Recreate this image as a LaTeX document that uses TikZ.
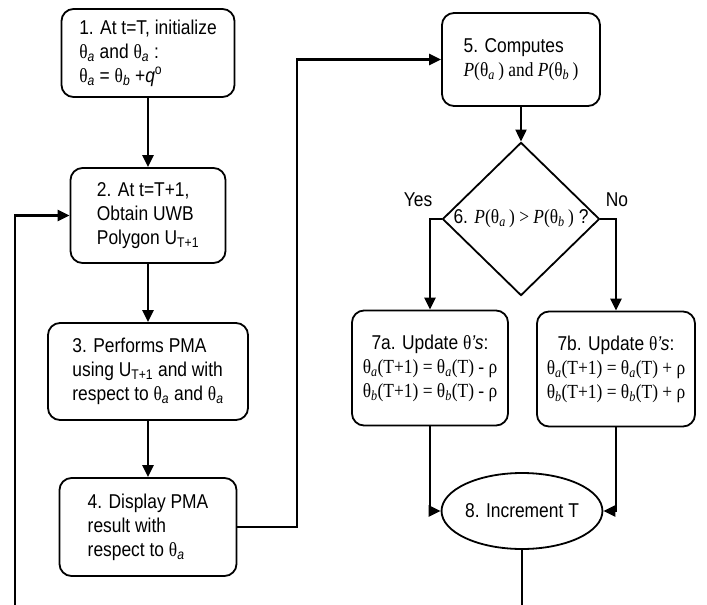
\documentclass[tikz,border=0pt]{standalone}
\usepackage{fontspec}
\setmainfont{Liberation Sans}[FakeStretch=0.87]
\newfontfamily\tms{Liberation Serif}[FakeStretch=0.87]
\usetikzlibrary{arrows.meta,calc,positioning,shapes.geometric}
\newcommand\tht[1]{{\tms θ}\textsubscript{\itshape #1}}

\begin{document}
\begin{tikzpicture}[x=1pt,y=-1pt,
    every node/.style={font=\fontsize{20}{24}\selectfont},
    stepbox/.style={draw,line width=1.8pt,rounded corners=12pt,align=left,inner sep=0pt},
    decision/.style={draw,diamond,line width=1.8pt,inner sep=0pt,aspect=1,minimum width=157pt,minimum height=152pt},
    term/.style={draw,ellipse,line width=1.8pt,inner sep=0pt,minimum width=138pt,minimum height=76pt},
    flow/.style={line width=2.4pt,-{Triangle[length=12pt,width=11pt]}},
    wire/.style={line width=2.4pt}]
        \useasboundingbox(0,0)rectangle(707,605);
        \node[stepbox,minimum width=173pt,minimum height=88pt](init)at(148,53){1. At t=T, initialize\\\tht{a} and \tht{a} :\\\tht{a} = \tht{b} +\textit{q}\textsuperscript{o}};
        \node[stepbox,minimum width=155pt,minimum height=95pt](poly)at(148,215.5){2. At t=T+1,\\Obtain UWB\\Polygon U\textsubscript{T+1}};
        \node[stepbox,minimum width=200pt,minimum height=97pt](pma)at(148,371.5){3. Performs PMA\\using U\textsubscript{T+1} and with\\respect to \tht{a} and \tht{a}};
        \node[stepbox,minimum width=177pt,minimum height=98pt](show)at(148,527){4. Display PMA\\result with\\respect to \tht{a}};
        \node[stepbox,minimum width=158pt,minimum height=93pt](prob)at(521,59.5){5. Computes\\{\tms\textit{P}(\tht{a}\,) and \textit{P}(\tht{b}\,)}};
        \node[decision](cmp)at(521,219){6. {\tms\textit{P}(\tht{a}\,) > \textit{P}(\tht{b}\,)} ?};
        \node[stepbox,align=center,minimum width=156pt,minimum height=115pt](upa)at(430,368){7a. Update {\tms θ}\textit{’s}:\\{\tms\tht{a}(T+1) = \tht{a}(T) - ρ}\\{\tms\tht{b}(T+1) = \tht{b}(T) - ρ}};
        \node[stepbox,align=center,minimum width=158pt,minimum height=115pt](upb)at(616,369){7b. Update {\tms θ}\textit{’s}:\\{\tms\tht{a}(T+1) = \tht{a}(T) + ρ}\\{\tms\tht{b}(T+1) = \tht{b}(T) + ρ}};
        \node[term](inc)at(522,511){8. Increment T};
        \node(yes)at(418,200){Yes};
        \node(no)at(617,200){No};
        \coordinate(jog)at(297,527);
        \coordinate(endA)at(15,605);
        \coordinate(endB)at(522,605);
        \draw[flow](init)--(poly);
        \draw[flow](poly)--(pma);
        \draw[flow](pma)--(show);
        \draw[flow](show.east)-|(jog|-prob.west)--(prob.west);
        \draw[flow](prob)--(cmp);
        \draw[flow](cmp.west)-|(upa.north);
        \draw[flow](cmp.east)-|(upb.north);
        \draw[flow](upa.south)|-(inc.west);
        \draw[flow](upb.south)|-(inc.east);
        \draw[wire](inc)--(endB);
        \draw[flow](endA)|-(poly.west);
      \end{tikzpicture}
\end{document}
